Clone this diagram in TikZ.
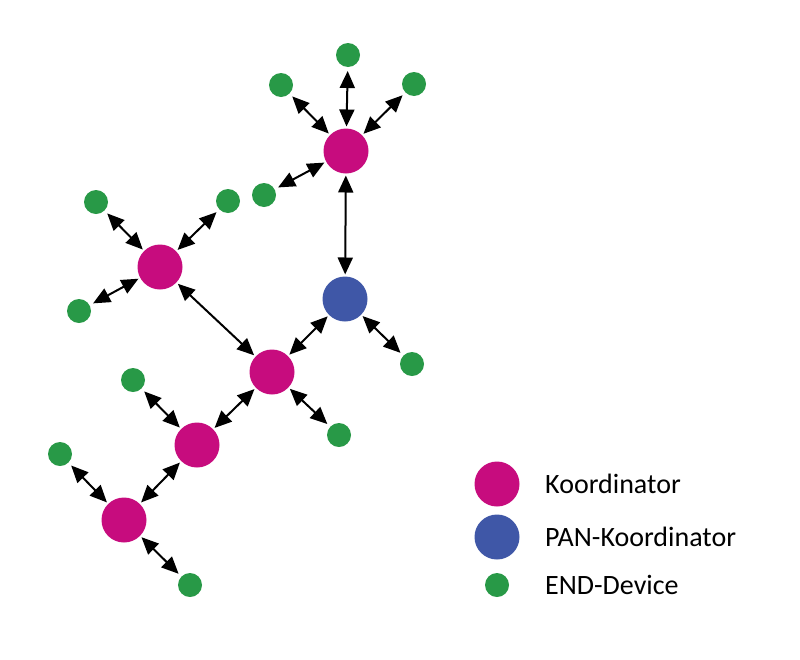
\documentclass[tikz,border=0pt]{standalone}
\usepackage{fontspec}
\setmainfont{Carlito}
\usetikzlibrary{arrows.meta}

\definecolor{koord}{RGB}{199,12,126}
\definecolor{pan}{RGB}{63,87,167}
\definecolor{enddev}{RGB}{40,153,71}

\begin{document}
\begin{tikzpicture}[x=1pt, y=-1pt, >={Triangle[length=17pt, width=15pt]},
  koordnode/.style={circle, fill=koord, minimum size=45pt, inner sep=0pt, outer sep=2pt},
  pannode/.style={circle, fill=pan, minimum size=45pt, inner sep=0pt, outer sep=2pt},
  devnode/.style={circle, fill=enddev, minimum size=24pt, inner sep=0pt, outer sep=4pt},
  link/.style={<->, line width=2pt},
  legendtext/.style={anchor=base west, font=\fontsize{28}{32}\selectfont, inner sep=0pt}]

  \useasboundingbox (0,0) rectangle (800,659);

  % coordinators
  \node[koordnode] (top) at (346,151) {};
  \node[pannode] (pan) at (345,299) {};
  \node[koordnode] (mid) at (272,372) {};
  \node[koordnode] (left) at (160,267) {};
  \node[koordnode] (lowa) at (197,445) {};
  \node[koordnode] (lowb) at (124,520) {};

  % end devices
  \node[devnode] (dtopn) at (348,55) {};
  \node[devnode] (dtopw) at (281,85) {};
  \node[devnode] (dtope) at (414,84) {};
  \node[devnode] (dtopsw) at (264,195) {};
  \node[devnode] (dpan) at (412,364) {};
  \node[devnode] (dleftnw) at (96,202) {};
  \node[devnode] (dleftne) at (228,201) {};
  \node[devnode] (dleftsw) at (79,311) {};
  \node[devnode] (dmid) at (339,435) {};
  \node[devnode] (dlowa) at (133,380) {};
  \node[devnode] (dlowbw) at (60,454) {};
  \node[devnode] (dlowbs) at (190,585) {};

  \draw[link] (top) -- (dtopn);
  \draw[link] (top) -- (dtopw);
  \draw[link] (top) -- (dtope);
  \draw[link] (top) -- (dtopsw);
  \draw[link] (top) -- (pan);
  \draw[link] (pan) -- (dpan);
  \draw[link] (pan) -- (mid);
  \draw[link] (mid) -- (left);
  \draw[link] (left) -- (dleftnw);
  \draw[link] (left) -- (dleftne);
  \draw[link] (left) -- (dleftsw);
  \draw[link] (mid) -- (dmid);
  \draw[link] (mid) -- (lowa);
  \draw[link] (lowa) -- (dlowa);
  \draw[link] (lowa) -- (lowb);
  \draw[link] (lowb) -- (dlowbw);
  \draw[link] (lowb) -- (dlowbs);

  % legend
  \node[koordnode] (legk) at (497,484) {};
  \node[pannode] (legp) at (497,537) {};
  \node[devnode] (lege) at (497,585) {};
  \node[legendtext] (legktext) at (545,493) {Koordinator};
  \node[legendtext] (legptext) at (545,546) {PAN-Koordinator};
  \node[legendtext] (legetext) at (545,594) {END-Device};

\end{tikzpicture}
\end{document}
